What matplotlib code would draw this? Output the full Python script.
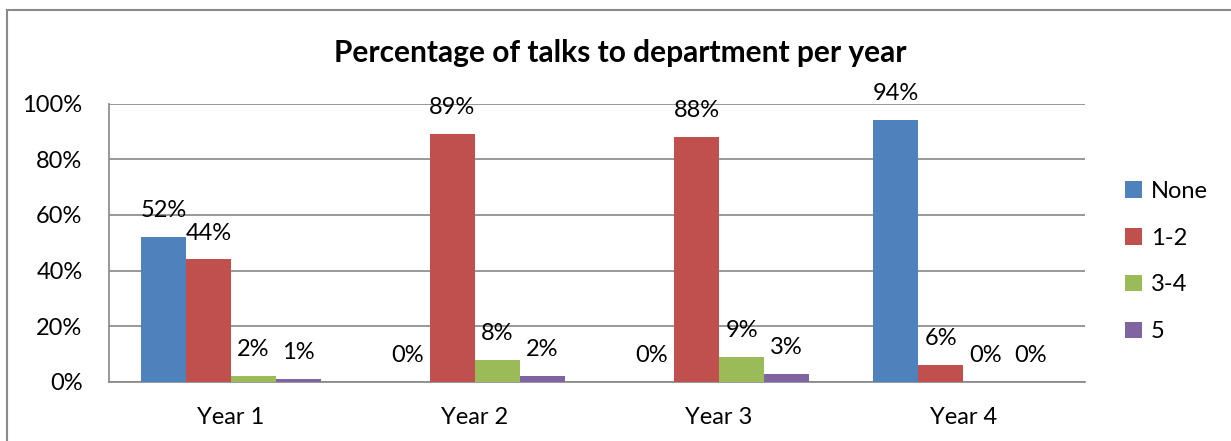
import numpy as np
import matplotlib.pyplot as plt
from matplotlib.lines import Line2D

# Share of talks to the department, by year of study
years = ['Year 1', 'Year 2', 'Year 3', 'Year 4']
series = ['None', '1-2', '3-4', '5']
none_vals = [52, 0, 0, 94]
one_two_vals = [44, 89, 88, 6]
three_four_vals = [2, 8, 9, 0]
five_vals = [1, 2, 3, 0]
colors = ['#4F81BD', '#C0504D', '#9BBB59', '#8064A2']

plt.rcParams['font.family'] = ['Lato', 'DejaVu Sans']

fig = plt.figure(figsize=(12.31, 4.41), dpi=100)
ax = fig.add_axes([0.0885, 0.134, 0.793, 0.631])

values = [none_vals, one_two_vals, three_four_vals, five_vals]
x = np.arange(len(years))
width = 0.1845
for i, (name, vals) in enumerate(zip(series, values)):
    pos = x + (i - 1.5) * width
    ax.bar(pos, vals, width, color=colors[i], label=name, zorder=3)
    for px, v in zip(pos, vals):
        ax.annotate(f'{v}%', (px, v), xytext=(0, 19), textcoords='offset points',
                    ha='center', va='center', fontsize=17, color='black')

ax.set_xlim(-0.5, 3.5)
ax.set_ylim(0, 100)
ax.set_yticks(range(0, 101, 20))
ax.set_yticklabels([f'{t}%' for t in range(0, 101, 20)])
ax.set_xticks(x)
ax.set_xticklabels(years)
ax.tick_params(axis='y', length=0, pad=19, labelsize=17)
ax.tick_params(axis='x', length=0, pad=18, labelsize=17)
ax.grid(axis='y', color='#868686', linewidth=1.2, zorder=0)
for side in ['top', 'right']:
    ax.spines[side].set_visible(False)
for side in ['left', 'bottom']:
    ax.spines[side].set_color('#868686')
    ax.spines[side].set_linewidth(1.2)

fig.text(0.504, 0.88, 'Percentage of talks to department per year',
         ha='center', va='center', fontsize=21.5, fontweight='bold')

fig.legend(loc='center left', bbox_to_anchor=(0.914, 0.407), frameon=False,
           fontsize=17, handlelength=0.7, handleheight=0.7, handletextpad=0.4,
           labelspacing=1.1, borderpad=0, borderaxespad=0)

# chart frame: left and top edges only
fig.add_artist(Line2D([0.0057, 0.0057], [0, 0.977], transform=fig.transFigure,
                      color='#8a8a8a', linewidth=1.5))
fig.add_artist(Line2D([0.0057, 1.0], [0.977, 0.977], transform=fig.transFigure,
                      color='#8a8a8a', linewidth=1.5))

fig.savefig('out.png', dpi=100)
